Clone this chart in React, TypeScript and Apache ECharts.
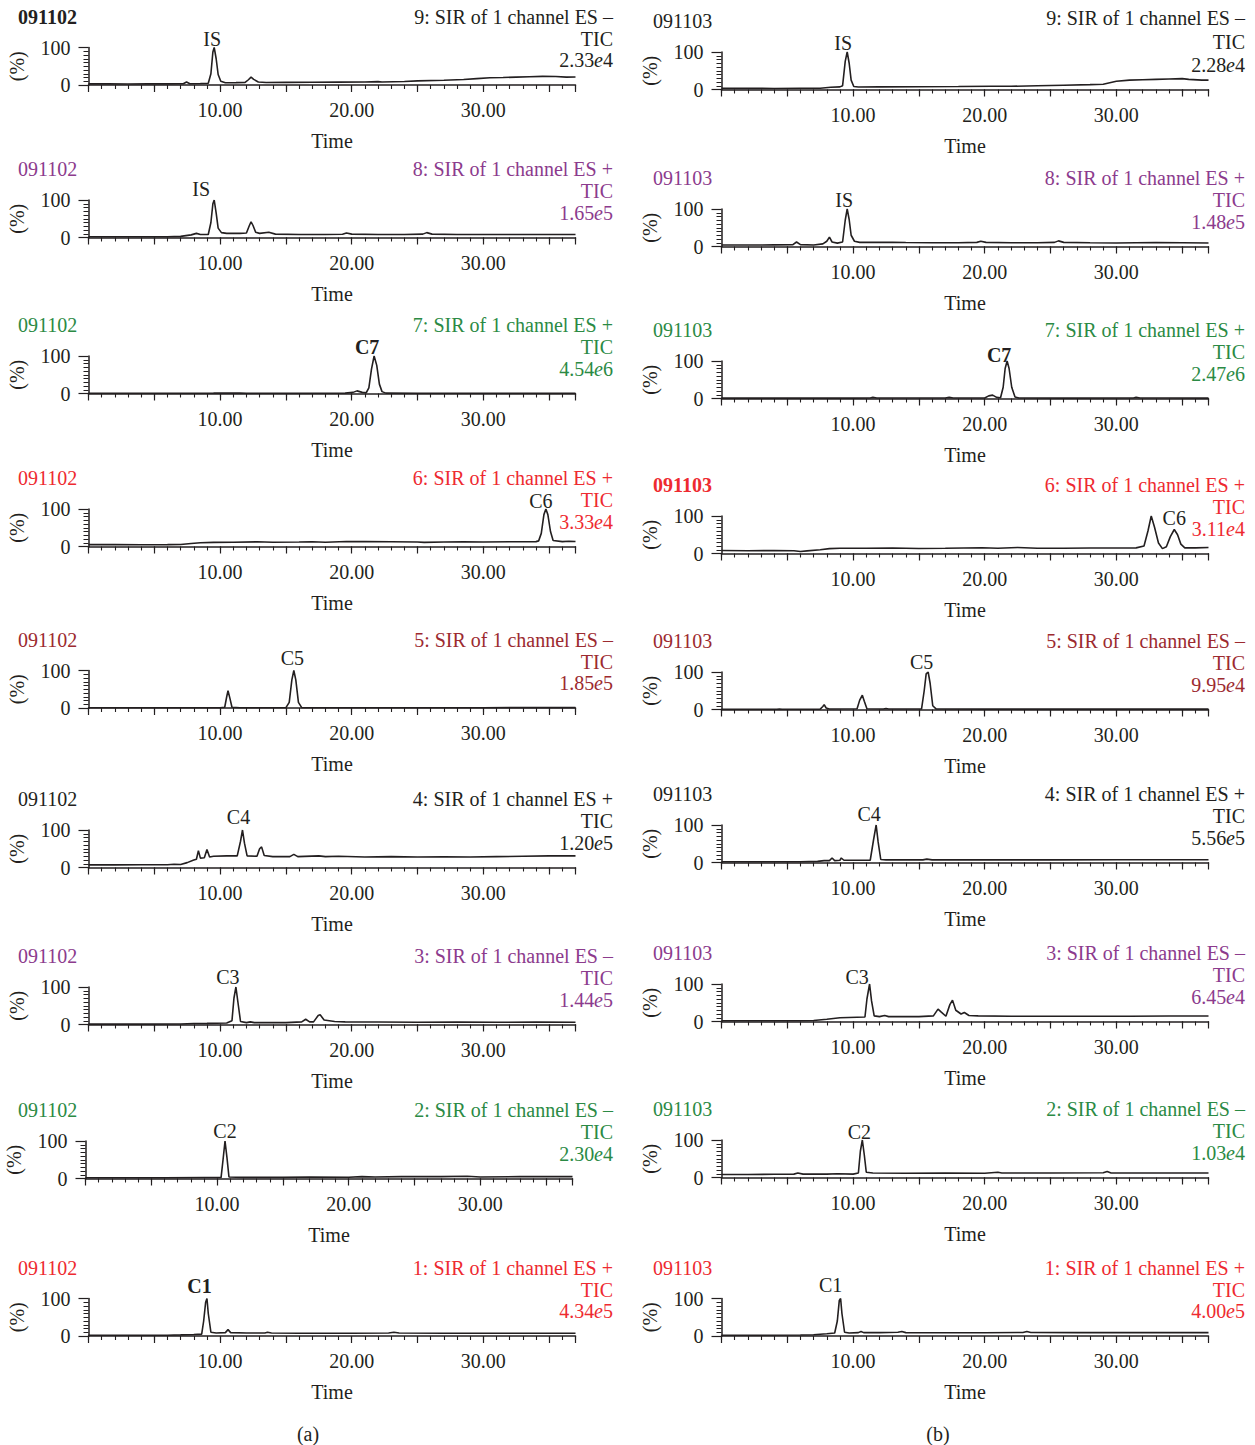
import { useEffect, useRef } from "react";
import * as echarts from "echarts";

// ---- chart content -------------------------------------------------------

const SAMPLES = ["091102", "091103"];
const CHANNELS = [9, 8, 7, 6, 5, 4, 3, 2, 1];
const POLARITY = ["–", "+", "+", "+", "–", "+", "–", "–", "+"];
const TIC_A = ["2.33e4", "1.65e5", "4.54e6", "3.33e4", "1.85e5", "1.20e5", "1.44e5", "2.30e4", "4.34e5"];
const TIC_B = ["2.28e4", "1.48e5", "2.47e6", "3.11e4", "9.95e4", "5.56e5", "6.45e4", "1.03e4", "4.00e5"];
const PEAK_NAMES = ["IS", "IS", "C7", "C6", "C5", "C4", "C3", "C2", "C1"];
const PEAK_TIME_A = [9.55, 9.55, 21.7, 34.75, 15.6, 11.7, 11.2, 10.6, 9.0];
const PEAK_TIME_B = [9.55, 9.55, 21.7, 34.4, 15.7, 11.75, 11.25, 10.7, 9.05];
const TIME_LABELS = [10, 20, 30];
const TIME_RANGE = [0, 37];
const INTENSITY_RANGE = [0, 100];

// chromatogram traces: [time (min), relative intensity (%)]
const TRACE_A9 = [[0,3],[1.5,3.2],[3,2.8],[4.5,3.3],[6,3],[7.2,3.4],[7.45,8],[7.7,3.5],[8.5,3.8],[9.1,4.5],[9.3,30],[9.45,88],[9.55,100],[9.7,70],[9.85,28],[10.05,10],[10.4,6],[11.2,6.3],[11.9,6.8],[12.15,14],[12.35,21],[12.55,15],[12.9,8],[13.5,6.5],[15,7],[17,7.3],[19,7.6],[21,7.8],[22,9],[22.3,8.2],[24,9.5],[25,11],[27,12.5],[28.5,14.5],[29.5,17],[30.5,19.5],[31.5,20],[32.5,21],[33.5,22],[34.5,23],[35.5,22.5],[36.3,21],[37,21.5]];
const TRACE_B9 = [[0,3],[2,3.2],[4,2.8],[6,3.2],[7.5,3.5],[8.3,6],[9,7],[9.2,10],[9.4,75],[9.55,100],[9.7,70],[9.85,25],[10.05,8],[10.4,6.5],[12,7],[15,7.5],[18,7.8],[20.5,8.5],[22,8.5],[24,10],[26,11.5],[28,13],[29,14],[30,22],[31,25],[32,26],[33,27],[34,28],[35,29],[35.5,27],[36.5,25],[37,25]];
const TRACE_A8 = [[0,2],[3,2],[6,2.2],[7,3],[7.8,7],[8.2,11],[8.5,8],[9.1,8],[9.3,40],[9.45,90],[9.55,100],[9.7,65],[9.85,25],[10.1,13],[10.5,11],[11.5,11],[12,12],[12.2,30],[12.35,42],[12.5,32],[12.7,14],[13,11],[13.7,14],[14.2,9],[16,8],[18,8],[19.3,8.5],[19.6,12],[20,9],[22,8],[24,8],[25.4,9],[25.7,13],[26.1,9],[28,8],[31,8],[34,8],[37,8]];
const TRACE_B8 = [[0,4],[2,4],[4,4.3],[5.4,4.5],[5.7,12],[6,5],[7,4],[7.7,7],[8.0,14],[8.2,25],[8.4,12],[8.8,9],[9.2,12],[9.4,70],[9.55,100],[9.7,72],[9.85,30],[10.1,14],[10.5,11],[12,11],[13,11.5],[14,10.5],[16,10],[18,10],[19.4,11],[19.7,14],[20.1,11],[22,10],[24,10],[25.3,11],[25.6,15],[26,11],[28,10],[30,9.5],[33,10.5],[35,10],[37,9.5]];
const TRACE_A7 = [[0,0.5],[5,0.5],[9.5,1],[11.5,1.5],[12,0.8],[19.5,1],[20.1,3],[20.4,7],[20.8,3],[21.1,2],[21.3,15],[21.5,65],[21.7,100],[21.9,75],[22.1,25],[22.3,5],[22.6,1],[25,0.5],[30,0.5],[37,0.5]];
const TRACE_B7 = [[0,1],[5,1],[10,1],[11.3,1.2],[11.5,3],[11.8,1.2],[17,1.2],[17.3,3],[17.6,1.2],[20,1.5],[20.3,7],[20.6,9],[20.9,3],[21.2,2],[21.4,30],[21.55,80],[21.7,100],[21.85,80],[22.05,30],[22.3,4],[22.6,1.2],[26,1],[31.3,1.2],[31.5,3],[31.8,1.2],[34,1.5],[37,1]];
const TRACE_A6 = [[0,5],[2,5.2],[4,4.8],[6,5],[7,5.5],[7.8,8],[8.5,10],[9.5,11],[11,11.5],[12.8,12.5],[14,11.5],[16,12],[17,12.5],[18,11.5],[19.6,13.5],[21,13],[23,12.5],[25,12],[25.5,11],[27,12],[28.5,12.8],[30,12],[32,12.5],[34,13],[34.2,15],[34.4,35],[34.6,85],[34.75,100],[34.9,85],[35.1,40],[35.3,16],[36,13],[36.5,14],[37,13.5]];
const TRACE_B6 = [[0,8],[2,7.5],[4,7.8],[5.5,7.5],[6,5.5],[6.5,7],[7.5,10],[8.2,13],[9,14],[11,14],[13,14.5],[15,13.5],[17,14],[19.8,15.5],[21,14],[22.5,16],[24,14],[26,14],[28,14.5],[30,14.5],[31.5,15],[32.1,20],[32.4,60],[32.65,100],[32.9,70],[33.2,28],[33.5,13],[33.8,18],[34.1,45],[34.4,64],[34.65,50],[34.9,25],[35.2,15],[36,15],[37,16]];
const TRACE_A5 = [[0,0.5],[5,0.5],[10,0.7],[10.35,2],[10.5,30],[10.6,46],[10.75,25],[10.9,2],[11.5,0.6],[15,0.8],[15.25,15],[15.45,75],[15.6,100],[15.75,75],[15.95,15],[16.2,1],[20,0.6],[25,0.6],[30,0.8],[33,1.2],[37,1]];
const TRACE_B5 = [[0,0.5],[4.2,0.8],[4.4,1.5],[4.6,0.6],[7.5,1],[7.7,8],[7.8,13],[7.95,4],[8.2,1.5],[10.3,2],[10.5,25],[10.7,38],[10.85,22],[11.05,2],[12.3,1.2],[12.5,2.5],[12.7,1.2],[15.2,1.5],[15.4,50],[15.55,95],[15.7,100],[15.85,70],[16.05,10],[16.3,1.5],[20,1],[25,1],[30,1],[37,1]];
const TRACE_A4 = [[0,7],[2,7],[4,7.2],[6,7.5],[6.5,8.5],[7,8],[7.5,13],[8,20],[8.2,22],[8.35,45],[8.5,25],[8.8,26],[9.0,48],[9.2,28],[9.5,30],[10.5,31],[11.3,31],[11.55,70],[11.7,100],[11.85,65],[12.05,31],[12.8,30],[13.0,50],[13.15,55],[13.35,32],[14,29],[15.3,29],[15.6,35],[15.9,29],[17.5,31],[18,29],[19,30],[21,28],[23,29],[25,28],[27,28.5],[29,28],[31,29],[33,30],[35,31],[37,31]];
const TRACE_B4 = [[0,2],[3,2],[6,2.2],[7.3,3],[7.8,5],[8.2,5],[8.4,12],[8.6,5],[9.0,6],[9.1,12],[9.3,6],[10,6],[11.3,6],[11.55,60],[11.75,100],[11.9,55],[12.1,8],[12.5,7],[15.3,7],[15.6,9],[16,7],[20,7],[25,7],[30,7.5],[37,7.5]];
const TRACE_A3 = [[0,1],[4,1],[7,1.5],[8,2.5],[9,3],[10.5,4],[10.9,10],[11.05,70],[11.2,100],[11.35,60],[11.55,8],[12,5],[12.3,7],[12.6,5],[15,5],[16.2,7],[16.5,14],[16.8,7],[17.1,7],[17.45,24],[17.6,26],[17.9,12],[18.3,10],[18.7,8],[19.5,7],[22,6.5],[25,6],[28,6.5],[31,6],[34,6.5],[37,6]];
const TRACE_B3 = [[0,2],[3,2],[6,2],[7,2.5],[8,6],[9,10],[10.3,11.5],[10.9,12],[11.05,60],[11.25,100],[11.4,55],[11.6,15],[12,13],[12.4,16],[12.7,13],[15,13],[16.1,15],[16.45,33],[16.7,25],[17.05,14],[17.35,45],[17.55,57],[17.8,30],[18.2,20],[18.45,24],[18.8,16],[19.5,15],[22,14],[25,14],[28,14],[31,14],[34,14.5],[37,14.5]];
const TRACE_A2 = [[0,2],[3,2],[6,2],[9,2.5],[10.3,2.5],[10.45,50],[10.6,100],[10.75,55],[10.9,4],[12,3],[15,3],[17,4],[20,3.5],[21,5],[22,4],[24,5],[27,5],[29,6],[30,4],[33,5],[37,5]];
const TRACE_B2 = [[0,8],[2,8],[4,8.5],[5.5,9],[5.8,12],[6.2,9],[8,9],[8.8,10],[10,9],[10.4,12],[10.55,70],[10.7,100],[10.85,60],[11.0,14],[11.5,12],[14,11.5],[17,12],[20,11.5],[21,14],[21.3,12],[25,12],[29,12.5],[29.3,16],[29.6,12],[33,12],[37,12]];
const TRACE_A1 = [[0,2],[3,2],[6,2.2],[7,3],[8,4],[8.6,5],[8.75,40],[8.9,90],[9.0,100],[9.1,60],[9.3,10],[9.7,8],[10.4,9],[10.6,17],[10.8,9],[12,8],[13.4,8],[13.6,10],[13.9,8],[16,7.5],[20,7.5],[22.8,8],[23.2,10],[23.6,8],[27,7.5],[30,7.5],[33,7.5],[37,7.5]];
const TRACE_B1 = [[0,2],[3,2],[6,2.5],[7,3.5],[8,6],[8.6,8],[8.8,40],[8.95,95],[9.05,100],[9.15,60],[9.35,10],[9.7,8],[10.4,9],[10.6,12],[10.8,9],[12,9],[13.4,10],[13.7,12],[14,9],[16,8.5],[20,8.5],[22.9,9.5],[23.2,12],[23.5,9.5],[27,9],[30,9],[33,9],[37,9]];

const TRACES_A = [TRACE_A9, TRACE_A8, TRACE_A7, TRACE_A6, TRACE_A5, TRACE_A4, TRACE_A3, TRACE_A2, TRACE_A1];
const TRACES_B = [TRACE_B9, TRACE_B8, TRACE_B7, TRACE_B6, TRACE_B5, TRACE_B4, TRACE_B3, TRACE_B2, TRACE_B1];

// ---- styling and layout --------------------------------------------------

const FONT = '"Liberation Serif", "Times New Roman", "DejaVu Serif", serif';
const FS = 20;
const BLACK = "#231f20";
const PURPLE = "#8c3b8d";
const GREEN = "#2b8a44";
const RED = "#ee2a30";
const DARKRED = "#9c2a2f";
const ROW_COLORS = [BLACK, PURPLE, GREEN, RED, DARKRED, BLACK, PURPLE, GREEN, RED];

const COL_LEFT = [88.5, 721.5];
const COL_RIGHT_TEXT = [613, 1245];
const COL_SAMPLE_X = [18, 653];
const PLOT_W = 487;
const PLOT_H = 37.5;
const ROW_TOP = [
  [47.5, 200, 356, 509, 670.5, 830, 987, 1141, 1298.5],
  [52, 209, 361, 516, 672, 825, 984, 1140, 1298.5],
];
const ROW_SHIFT = [
  [0, 0, 0, 0, 0, 0, 0, -3, 0],
  [0, 0, 0, 0, 0, 0, 0, 0, 0],
];
// peak-label offsets [dx, dy] measured from the labelled peak
const LABEL_OFFSET = [
  [[-2, 9], [-13, 11.5], [-7, 9.5], [-5, 8], [-1.5, 13], [-4, 13], [-8, 10.5], [0, 10.5], [-7.5, 12.5]],
  [[-4, 9], [-3, 9], [-8, 6.5], [0, 11.5], [-6.5, 10.5], [-7, 11], [-12.5, 7], [-3, 8.5], [-10, 13.5]],
];
// vertical offsets of the header lines (title, "TIC", scale) relative to each plot top
const HEADER_DY = [
  [[-31, -31, -9, 12.5], [-31, -31, -9, 12.5], [-31, -31, -9, 12.5], [-31, -31, -9, 12.5], [-31, -31, -9, 12.5], [-31, -31, -9, 12.5], [-31, -31, -9, 12.5], [-31, -31, -9, 12.5], [-31, -31, -9, 12.5]],
  [[-31, -34, -10, 12.5], [-31, -31, -9, 12.5], [-31, -31, -9, 12.5], [-31, -31, -9, 12.5], [-31, -31, -9, 12.5], [-31, -31, -9, 12.5], [-31, -31, -9, 12.5], [-31, -31, -9, 12.5], [-31, -31, -9, 12.5]],
];
const BOLD_SAMPLE = [
  [true, false, false, false, false, false, false, false, false],
  [false, false, false, true, false, false, false, false, false],
];
const BOLD_PEAK = [
  [false, false, true, false, false, false, false, false, true],
  [false, false, true, false, false, false, false, false, false],
];

const txt = (color: string, weight: string = "normal") => ({
  fontFamily: FONT,
  fontSize: FS,
  color,
  fontWeight: weight,
});

function buildOption() {
  const grid: any[] = [];
  const xAxis: any[] = [];
  const yAxis: any[] = [];
  const series: any[] = [];
  const graphic: any[] = [];

  let gi = 0;
  for (let col = 0; col < 2; col++) {
    const traces = col === 0 ? TRACES_A : TRACES_B;
    const tics = col === 0 ? TIC_A : TIC_B;
    const peakTimes = col === 0 ? PEAK_TIME_A : PEAK_TIME_B;
    for (let row = 0; row < 9; row++) {
      const top = ROW_TOP[col][row];
      const left = COL_LEFT[col] + ROW_SHIFT[col][row];
      const color = ROW_COLORS[row];
      const [dySample, dyTitle, dyTic, dyScale] = HEADER_DY[col][row];

      grid.push({ left, top, width: PLOT_W, height: PLOT_H, containLabel: false, outerBoundsMode: "none" });

      // main time axis: long ticks every 5 min, labels at 10/20/30
      xAxis.push({
        gridIndex: gi,
        type: "value",
        position: "bottom",
        min: TIME_RANGE[0],
        max: TIME_RANGE[1],
        interval: 5,
        axisLine: { show: true, onZero: false, lineStyle: { color: BLACK, width: 1.5 } },
        axisTick: { show: true, length: 7, lineStyle: { color: BLACK, width: 1.2 } },
        axisLabel: {
          show: true,
          margin: 15,
          ...txt(BLACK),
          formatter: (v: number) => (TIME_LABELS.includes(v) ? v.toFixed(2) : ""),
        },
        splitLine: { show: false },
        name: "Time",
        nameLocation: "middle",
        nameGap: 46,
        nameTextStyle: txt(BLACK),
      });
      // short ticks every minute
      xAxis.push({
        gridIndex: gi,
        type: "value",
        position: "bottom",
        min: TIME_RANGE[0],
        max: TIME_RANGE[1],
        interval: 1,
        axisLine: { show: false },
        axisTick: { show: true, length: 4, lineStyle: { color: BLACK, width: 1.1 } },
        axisLabel: { show: false },
        splitLine: { show: false },
      });

      yAxis.push({
        gridIndex: gi,
        type: "value",
        position: "left",
        min: INTENSITY_RANGE[0],
        max: INTENSITY_RANGE[1],
        interval: 100,
        axisLine: { show: true, onZero: false, lineStyle: { color: BLACK, width: 1.5 } },
        axisTick: { show: true, length: 10, lineStyle: { color: BLACK, width: 1.2 } },
        minorTick: { show: true, splitNumber: 10, length: 5, lineStyle: { color: BLACK, width: 1 } },
        splitLine: { show: false },
        minorSplitLine: { show: false },
        axisLabel: {
          show: true,
          margin: 18,
          ...txt(BLACK),
          formatter: (v: number) => (v === 0 || v === 100 ? String(v) : ""),
        },
        name: "(%)",
        nameLocation: "middle",
        nameRotate: 90,
        nameGap: 62,
        nameTextStyle: txt(BLACK),
      });

      const data = traces[row];
      const pt = peakTimes[row];
      const peakPoint = data.find((p) => p[0] === pt) || [pt, 100];
      const [dx, dy] = LABEL_OFFSET[col][row];

      series.push({
        type: "line",
        xAxisIndex: gi * 2,
        yAxisIndex: gi,
        data,
        symbol: "none",
        showSymbol: false,
        silent: true,
        lineStyle: { color: BLACK, width: 1.6 },
        markPoint: {
          symbol: "circle",
          symbolSize: 0,
          silent: true,
          data: [
            {
              coord: [peakPoint[0], peakPoint[1]],
              label: {
                show: true,
                position: "inside",
                offset: [dx, -dy],
                formatter: PEAK_NAMES[row],
                ...txt(BLACK, BOLD_PEAK[col][row] ? "bold" : "normal"),
              },
            },
          ],
        },
      });

      // sample id (top-left) and channel description (top-right)
      graphic.push({
        type: "text",
        x: COL_SAMPLE_X[col],
        y: top + dySample,
        silent: true,
        style: {
          text: SAMPLES[col],
          fill: color,
          font: `${BOLD_SAMPLE[col][row] ? "bold " : ""}${FS}px ${FONT}`,
          align: "left",
          verticalAlign: "middle",
        },
      });
      graphic.push({
        type: "text",
        x: COL_RIGHT_TEXT[col],
        y: top + dyTitle,
        silent: true,
        style: {
          text: `${CHANNELS[row]}: SIR of 1 channel ES ${POLARITY[row]}`,
          fill: color,
          font: `${FS}px ${FONT}`,
          align: "right",
          verticalAlign: "middle",
        },
      });
      graphic.push({
        type: "text",
        x: COL_RIGHT_TEXT[col],
        y: top + dyTic,
        silent: true,
        style: {
          text: "TIC",
          fill: color,
          font: `${FS}px ${FONT}`,
          align: "right",
          verticalAlign: "middle",
        },
      });
      const [mant, expo] = tics[row].split("e");
      graphic.push({
        type: "text",
        x: COL_RIGHT_TEXT[col],
        y: top + dyScale,
        silent: true,
        style: {
          text: `{n|${mant}}{i|e}{n|${expo}}`,
          fill: color,
          font: `${FS}px ${FONT}`,
          align: "right",
          verticalAlign: "middle",
          rich: {
            n: { fontFamily: FONT, fontSize: FS, fill: color },
            i: { fontFamily: FONT, fontSize: FS, fontStyle: "italic", fill: color },
          },
        },
      });
      gi++;
    }
  }

  graphic.push({
    type: "text",
    x: 308,
    y: 1434,
    silent: true,
    style: { text: "(a)", fill: BLACK, font: `${FS}px ${FONT}`, align: "center", verticalAlign: "middle" },
  });
  graphic.push({
    type: "text",
    x: 938,
    y: 1434,
    silent: true,
    style: { text: "(b)", fill: BLACK, font: `${FS}px ${FONT}`, align: "center", verticalAlign: "middle" },
  });

  return {
    animation: false,
    backgroundColor: "#ffffff",
    grid,
    xAxis,
    yAxis,
    series,
    graphic,
  };
}

export default function App() {
  const ref = useRef<HTMLDivElement | null>(null);
  useEffect(() => {
    if (!ref.current) return;
    const chart = echarts.init(ref.current, undefined, { renderer: "svg" });
    chart.setOption(buildOption() as any);
    return () => chart.dispose();
  }, []);
  return (
    <div
      ref={ref}
      style={{ position: "absolute", left: 0, top: 0, width: 1255, height: 1445, background: "#fff" }}
    />
  );
}
